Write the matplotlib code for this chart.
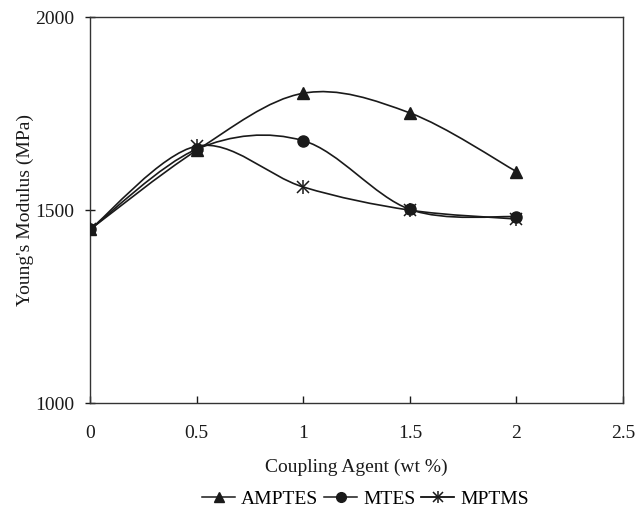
import matplotlib
matplotlib.use("Agg")
import matplotlib.pyplot as plt
from matplotlib.path import Path
from matplotlib.patches import PathPatch
from matplotlib.lines import Line2D
from matplotlib.legend_handler import HandlerTuple
import numpy as np

plt.rcParams["font.family"] = ["Liberation Serif", "DejaVu Serif"]

# data
coupling = [0, 0.5, 1, 1.5, 2]
amptes = [1450, 1655, 1803, 1752, 1600]
mtes = [1450, 1658, 1680, 1502, 1483]
mptms = [1450, 1666, 1560, 1500, 1477]

INK = "#1a1a1a"


def smooth_path(xs, ys, k=1 / 6):
    # Excel-like smoothed line: cubic Bezier segments (Catmull-Rom control points)
    pts = np.column_stack([xs, ys]).astype(float)
    n = len(pts)
    verts = [pts[0]]
    codes = [Path.MOVETO]
    for i in range(n - 1):
        p0 = pts[i - 1] if i > 0 else pts[i]
        p1, p2 = pts[i], pts[i + 1]
        p3 = pts[i + 2] if i + 2 < n else pts[i + 1]
        c1 = p1 + (p2 - p0) * k
        c2 = p2 - (p3 - p1) * k
        verts += [c1, c2, p2]
        codes += [Path.CURVE4] * 3
    return Path(verts, codes)


fig = plt.figure(figsize=(6.39, 5.07), dpi=100)
ax = fig.add_axes([0.141, 0.205, 0.834, 0.761])

for ys in (amptes, mtes, mptms):
    ax.add_patch(PathPatch(smooth_path(coupling, ys), fill=False, edgecolor=INK, lw=1.2, zorder=2))

ax.plot(coupling, amptes, ls="none", marker="^", ms=8, color=INK, zorder=3)
ax.plot(coupling, mtes, ls="none", marker="o", ms=8, color=INK, zorder=3)
ax.plot(coupling, mptms, ls="none", marker="x", ms=8, mew=1.1, color=INK, zorder=4)
ax.plot(coupling, mptms, ls="none", marker="|", ms=10, mew=1.1, color=INK, zorder=4)

ax.set_xlim(0, 2.5)
ax.set_ylim(1000, 2000)
ax.set_xticks([0, 0.5, 1, 1.5, 2, 2.5])
ax.set_xticklabels(["0", "0.5", "1", "1.5", "2", "2.5"])
ax.set_yticks([1000, 1500, 2000])
for s in ax.spines.values():
    s.set_color("#333333")
    s.set_linewidth(1.0)
ax.tick_params(axis="y", direction="inout", length=7, width=1, labelsize=14, colors=INK, pad=8)
ax.tick_params(axis="x", direction="in", length=5, width=1, labelsize=14, colors=INK, pad=16)
ax.set_xlabel("Coupling Agent (wt %)", fontsize=14, color=INK, labelpad=12)
ax.set_ylabel("Young's Modulus (MPa)", fontsize=14, color=INK, labelpad=1)

h_a = Line2D([], [], color=INK, lw=1.1, marker="^", ms=7)
h_m = Line2D([], [], color=INK, lw=1.1, marker="o", ms=7)
h_p = (Line2D([], [], color=INK, lw=1.1, marker="x", ms=7, mew=1.1),
       Line2D([], [], color=INK, lw=1.1, marker="|", ms=9, mew=1.1))
fig.legend([h_a, h_m, h_p], ["AMPTES", "MTES", "MPTMS"],
           handler_map={tuple: HandlerTuple(ndivide=1, pad=0)},
           loc="center", bbox_to_anchor=(0.572, 0.016), ncol=3, frameon=False,
           fontsize=14, handlelength=1.7, handletextpad=0.3, columnspacing=0.3,
           borderpad=0.1)

fig.savefig("out.png", dpi=100, facecolor="white")
